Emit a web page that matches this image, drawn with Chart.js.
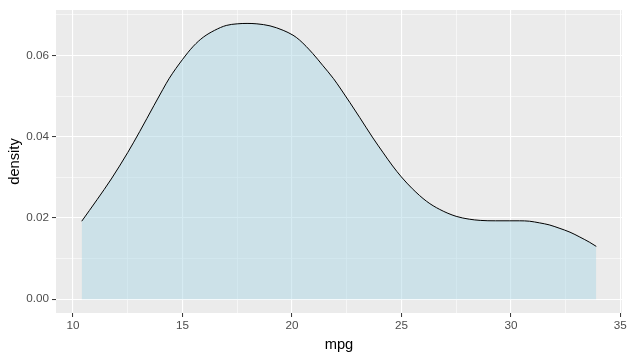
<!DOCTYPE html>
<html>
<head>
<meta charset="utf-8">
<script src="https://cdn.jsdelivr.net/npm/chart.js@4"></script>
<style>
  html, body { margin: 0; padding: 0; background: #ffffff; }
  #wrap { width: 629px; height: 358px; }
</style>
</head>
<body>
<div id="wrap"><canvas id="densityChart"></canvas></div>
<script>
// mpg values and density
const mpgValues = [10.4, 11.1, 11.75, 12.5, 13.05, 13.7, 14.1, 14.4, 15.0, 15.5,
  15.95, 16.47, 17.0, 17.5, 17.95, 18.4, 19.0, 19.6, 20.05, 20.35,
  20.95, 21.4, 21.9, 22.2, 22.65, 23.1, 23.7, 24.15, 24.6, 25.0,
  25.5, 26.15, 26.75, 27.5, 28.1, 28.6, 29.3, 29.95, 30.4, 30.85,
  31.3, 31.75, 32.2, 32.7, 33.15, 33.6, 33.9];
const densityValues = [0.0192, 0.0245, 0.0296, 0.0361, 0.0413, 0.0477, 0.0516, 0.0544, 0.0590, 0.0623,
  0.0645, 0.0662, 0.0674, 0.0678, 0.0679, 0.0678, 0.0673, 0.0662, 0.0650, 0.0638,
  0.0605, 0.0576, 0.0543, 0.0520, 0.0484, 0.0447, 0.0397, 0.0362, 0.0328, 0.0301,
  0.0272, 0.0241, 0.0221, 0.0204, 0.0197, 0.0194, 0.0193, 0.0193, 0.0193, 0.0192,
  0.0188, 0.0183, 0.0175, 0.0165, 0.0153, 0.0140, 0.0130];

const xMajorTicks = [10, 15, 20, 25, 30, 35];
const xMinorTicks = [12.5, 17.5, 22.5, 27.5, 32.5];
const yMajorTicks = [0, 0.02, 0.04, 0.06];
const yMinorTicks = [0.01, 0.03, 0.05, 0.07];

const points = [];
for (let i = 0; i < mpgValues.length; i++) {
  points.push({ x: mpgValues[i], y: densityValues[i] });
}

const panelBg = {
  id: "panelBg",
  beforeDraw(chart) {
    const a = chart.chartArea;
    const ctx = chart.ctx;
    ctx.save();
    ctx.fillStyle = "#EBEBEB";
    ctx.fillRect(a.left, a.top, a.right - a.left, a.bottom - a.top);
    ctx.restore();
  }
};

function isMajor(list, v) {
  return list.some(t => Math.abs(t - v) < 1e-9);
}

function gridFor(majors) {
  return {
    color: "#FFFFFF",
    lineWidth: ctx => isMajor(majors, ctx.tick.value) ? 1.1 : 0.55,
    drawTicks: true,
    tickLength: 4,
    tickWidth: 1,
    tickColor: ctx => isMajor(majors, ctx.tick.value) ? "#333333" : "rgba(0,0,0,0)"
  };
}

new Chart(document.getElementById("densityChart"), {
  type: "line",
  data: {
    datasets: [{
      label: "density",
      data: points,
      borderColor: "#000000",
      borderWidth: 1,
      backgroundColor: "rgba(173,216,230,0.5)",
      fill: "origin",
      pointRadius: 0,
      cubicInterpolationMode: "monotone"
    }]
  },
  plugins: [panelBg],
  options: {
    responsive: true,
    maintainAspectRatio: false,
    animation: false,
    layout: { padding: { top: 7, right: 7, left: 0, bottom: 0 } },
    plugins: {
      legend: { display: false },
      tooltip: { enabled: false }
    },
    scales: {
      x: {
        type: "linear",
        min: 9.225,
        max: 35.075,
        border: { display: false },
        grid: gridFor(xMajorTicks),
        afterBuildTicks: scale => {
          scale.ticks = xMajorTicks.concat(xMinorTicks).sort((a, b) => a - b).map(v => ({ value: v }));
        },
        afterFit: scale => { scale.height = 45; },
        ticks: {
          color: "#4D4D4D",
          padding: 2,
          maxRotation: 0,
          autoSkip: false,
          font: { family: "Liberation Sans, Arial, sans-serif", size: 11.7 },
          callback: v => isMajor(xMajorTicks, v) ? String(v) : ""
        },
        title: {
          display: true,
          text: "mpg",
          color: "#000000",
          padding: { top: 0, bottom: 4 },
          font: { family: "Liberation Sans, Arial, sans-serif", size: 14.7 }
        }
      },
      y: {
        type: "linear",
        min: -0.0034,
        max: 0.0712,
        border: { display: false },
        grid: gridFor(yMajorTicks),
        afterBuildTicks: scale => {
          scale.ticks = yMajorTicks.concat(yMinorTicks).sort((a, b) => a - b).map(v => ({ value: v }));
        },
        afterFit: scale => { scale.width = 56; },
        ticks: {
          color: "#4D4D4D",
          padding: 3,
          autoSkip: false,
          font: { family: "Liberation Sans, Arial, sans-serif", size: 11.7 },
          callback: v => isMajor(yMajorTicks, v) ? v.toFixed(2) : ""
        },
        title: {
          display: true,
          text: "density",
          color: "#000000",
          padding: { top: 6, bottom: 0 },
          font: { family: "Liberation Sans, Arial, sans-serif", size: 14.7 }
        }
      }
    }
  }
});
</script>
</body>
</html>
